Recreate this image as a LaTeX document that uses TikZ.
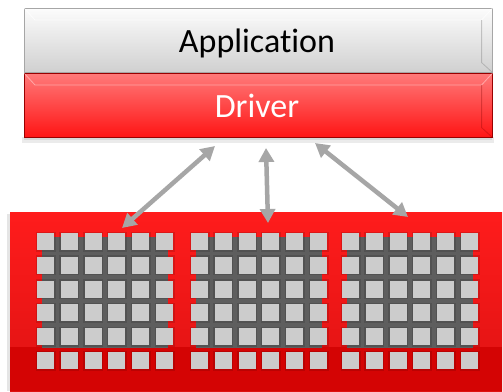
\documentclass[tikz,border=0pt]{standalone}
\usepackage{fontspec}
\setmainfont{Carlito}[Ligatures={NoCommon,NoDiscretionary,NoContextual}]
\usetikzlibrary{arrows.meta}
\definecolor{arrowgray}{HTML}{A6A6A6}
\definecolor{apptop}{HTML}{FCFCFC}
\definecolor{appbot}{HTML}{D0D0D0}
\definecolor{drvtop}{HTML}{FF7A7A}
\definecolor{drvbot}{HTML}{FF1414}
\definecolor{boardtop}{HTML}{FF1C1C}
\definecolor{boardbot}{HTML}{DE1212}
\definecolor{boarddark}{HTML}{D40404}
\definecolor{cellgray}{HTML}{CCCCCC}
\definecolor{gridbg}{HTML}{5E5E5E}
\tikzset{
  appbox/.style={rectangle, inner sep=0pt, anchor=north west, minimum width=468pt, minimum height=64pt,
    top color=apptop, bottom color=appbot, draw=gray!70, line width=0.6pt},
  drvbox/.style={rectangle, inner sep=0pt, anchor=north west, minimum width=468pt, minimum height=64pt,
    top color=drvtop, bottom color=drvbot, draw=red!60!black, line width=0.6pt},
  boardbox/.style={rectangle, inner sep=0pt, anchor=north west, minimum width=492pt, minimum height=179pt,
    top color=boardtop, bottom color=boardbot},
  gridback/.style={rectangle, inner sep=0pt, anchor=north west, fill=gridbg, minimum width=126pt, minimum height=111pt},
  cell/.style={fill=cellgray},
  biarrow/.style={draw=arrowgray, line width=4.5pt,
    {Triangle[width=15pt,length=14pt]}-{Triangle[width=15pt,length=14pt]}},
  bigtext/.style={anchor=base, font=\fontsize{34}{36}\selectfont, inner sep=0pt}
}
\begin{document}
\begin{tikzpicture}[x=1pt,y=-1pt]
\useasboundingbox[fill=white] (0,0) rectangle (503,391);
% board
\fill[black,opacity=0.10] (7,214) rectangle (11,391);
\node[boardbox] (hw) at (10,212) {};
\fill[boarddark] (hw.south west) rectangle ([yshift=44pt]hw.south east);
% grids
\foreach \gx/\n in {37/1,191/2,342/3} {
  \node[gridback] (g\n) at (\gx+5,237) {};
  \foreach \i in {0,...,5} {
    \foreach \j in {0,...,5} {
      \fill[black,opacity=0.12] (\gx+\i*23.8-1.5,233+\j*23.8-1.5) rectangle ++(20,20);
      \fill[cell] (\gx+\i*23.8,233+\j*23.8) rectangle ++(17,17);
    }
  }
}
% shadow under top stack
\fill[black,opacity=0.08] (22,137) rectangle (494,143);
\fill[black,opacity=0.08] (24,137) rectangle (492,140);
% app and driver
\node[appbox] (app) at (24,8) {};
\node[drvbox] (drv) at (24,73) {};
% bevel hints
\draw[white,opacity=0.7,line width=0.8pt] (app.north west) -- ++(11,12) -- ([xshift=-11pt,yshift=-12pt]app.north east) -- (app.north east);
\draw[gray,opacity=0.4,line width=0.8pt] ([xshift=-11pt,yshift=-12pt]app.north east) -- ([xshift=-11pt,yshift=10pt]app.south east) -- (app.south east);
\draw[white,opacity=0.4,line width=0.8pt] (drv.north west) -- ++(11,12) -- ([xshift=-11pt,yshift=-12pt]drv.north east) -- (drv.north east);
\draw[red!50!black,opacity=0.3,line width=0.8pt] ([xshift=-11pt,yshift=-12pt]drv.north east) -- ([xshift=-11pt,yshift=10pt]drv.south east) -- (drv.south east);
\node[bigtext] (apptext) at (257,52) {Application};
\node[bigtext, text=white] (drvtext) at (257,117) {Driver};
% arrows
\coordinate (a1) at (215,146);
\coordinate (b1) at (122,228);
\coordinate (a2) at (266,148);
\coordinate (b2) at (268,223);
\coordinate (a3) at (315,143);
\coordinate (b3) at (408,217);
\draw[biarrow] (a1) -- (b1);
\draw[biarrow] (a2) -- (b2);
\draw[biarrow] (a3) -- (b3);
\end{tikzpicture}
\end{document}
